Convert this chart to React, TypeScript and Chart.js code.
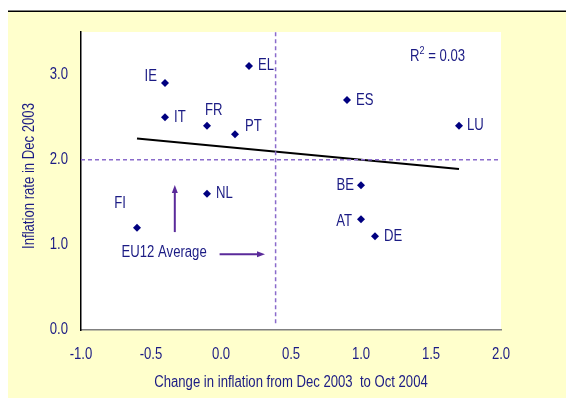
import React, { useEffect, useRef } from "react";
import { Chart, registerables } from "chart.js";

Chart.register(...registerables);

// ---- data ----
const countries = ["EL", "IE", "IT", "FR", "PT", "ES", "LU", "BE", "NL", "FI", "AT", "DE"];
const changeInInflation = [0.2, -0.4, -0.4, -0.1, 0.1, 0.9, 1.7, 1.0, -0.1, -0.6, 1.0, 1.1];
const inflationDec2003 = [3.1, 2.9, 2.5, 2.4, 2.3, 2.7, 2.4, 1.7, 1.6, 1.2, 1.3, 1.1];
const trendX = [-0.6, 1.7];
const trendY = [2.25, 1.89];
const avgChange = 0.39;
const avgInflation = 2.0;
const xTicks = [-1.0, -0.5, 0.0, 0.5, 1.0, 1.5, 2.0];
const yTicks = [0.0, 1.0, 2.0, 3.0];
const rSquared = "0.03";
const xTitle = "Change in inflation from Dec 2003  to Oct 2004";
const yTitle = "Inflation rate in Dec 2003";

// ---- styles / label placement ----
const FONT = '"Liberation Sans", Arial, sans-serif';
const TEXT = "#1B1B84";
const SQ = 0.82; // horizontal condensation of text
const labelPlace: Record<string, { dx: number; dy: number; align: CanvasTextAlign }> = {
  EL: { dx: 9, dy: 0, align: "left" },
  IE: { dx: -8, dy: -6, align: "right" },
  IT: { dx: 9, dy: 0, align: "left" },
  FR: { dx: -2, dy: -15, align: "left" },
  PT: { dx: 10, dy: -8, align: "left" },
  ES: { dx: 9, dy: 0, align: "left" },
  LU: { dx: 8, dy: 0, align: "left" },
  BE: { dx: -7, dy: 0, align: "right" },
  NL: { dx: 9, dy: 0, align: "left" },
  FI: { dx: -11, dy: -24, align: "right" },
  AT: { dx: -9, dy: 2, align: "right" },
  DE: { dx: 9, dy: 0, align: "left" },
};

function narrowText(ctx: CanvasRenderingContext2D, text: string, x: number, y: number, align: CanvasTextAlign, size = 16, rotate = 0) {
  ctx.save();
  ctx.translate(x, y);
  if (rotate) ctx.rotate(rotate);
  ctx.scale(SQ, 1);
  ctx.font = `${size}px ${FONT}`;
  ctx.textAlign = align;
  ctx.textBaseline = "middle";
  ctx.fillText(text, 0, 0);
  const w = ctx.measureText(text).width * SQ;
  ctx.restore();
  return w;
}

const decorPlugin = {
  id: "decor",
  beforeDraw(chart: any) {
    const { ctx, chartArea: a, width, height } = chart;
    ctx.save();
    ctx.fillStyle = "#ffffff";
    ctx.fillRect(0, 0, width, height);
    ctx.fillStyle = "#FFFFCC";
    ctx.fillRect(8, 12, width - 8, height - 12);
    ctx.fillStyle = "#000000";
    ctx.fillRect(8, 10.5, width - 8, 1.5);
    ctx.fillStyle = "#ffffff";
    ctx.fillRect(a.left, a.top, a.right - a.left, a.bottom - a.top);
    ctx.restore();
  },
  afterDraw(chart: any) {
    const { ctx, scales, chartArea: a } = chart;
    const xs = scales.x, ys = scales.y;
    ctx.save();
    ctx.fillStyle = TEXT;
    // tick labels
    xTicks.forEach((v) => narrowText(ctx, v.toFixed(1), xs.getPixelForValue(v), a.bottom + 25, "center"));
    yTicks.forEach((v) => narrowText(ctx, v.toFixed(1), a.left - 13, ys.getPixelForValue(v), "right"));
    // point labels
    countries.forEach((c, i) => {
      const p = labelPlace[c];
      const px = xs.getPixelForValue(changeInInflation[i]);
      const py = ys.getPixelForValue(inflationDec2003[i]);
      narrowText(ctx, c, px + p.dx, py + p.dy, p.align);
    });
    // EU12 Average text
    narrowText(ctx, "EU12 Average", xs.getPixelForValue(-0.71), ys.getPixelForValue(0.91), "left");
    // R^2
    let rx = xs.getPixelForValue(1.35);
    const ry = ys.getPixelForValue(3.21);
    rx += narrowText(ctx, "R", rx, ry, "left");
    rx += narrowText(ctx, "2", rx, ry - 6, "left", 11);
    narrowText(ctx, " = " + rSquared, rx, ry, "left");
    // arrow heads
    ctx.fillStyle = "#5A2A9A";
    const vx = xs.getPixelForValue(-0.33);
    const vy = ys.getPixelForValue(1.68);
    ctx.beginPath();
    ctx.moveTo(vx, vy - 2);
    ctx.lineTo(vx - 3, vy + 6);
    ctx.lineTo(vx + 3, vy + 6);
    ctx.closePath();
    ctx.fill();
    const hx = xs.getPixelForValue(0.3);
    const hy = ys.getPixelForValue(0.89);
    ctx.beginPath();
    ctx.moveTo(hx + 2, hy);
    ctx.lineTo(hx - 6, hy - 3);
    ctx.lineTo(hx - 6, hy + 3);
    ctx.closePath();
    ctx.fill();
    // axis titles
    ctx.fillStyle = TEXT;
    narrowText(ctx, xTitle, 291, 383, "center");
    narrowText(ctx, yTitle, 30, 176, "center", 16, -Math.PI / 2);
    ctx.restore();
  },
};

export default function App() {
  const ref = useRef<HTMLCanvasElement | null>(null);
  useEffect(() => {
    document.body.style.margin = "0";
    const canvas = ref.current!;
    const chart = new Chart(canvas, {
      type: "scatter",
      data: {
        datasets: [
          {
            type: "line",
            data: [
              { x: avgChange, y: 0.08 },
              { x: avgChange, y: 3.5 },
            ],
            borderColor: "#8A6BCB",
            borderWidth: 1.5,
            borderDash: [4, 3],
            pointRadius: 0,
          } as any,
          {
            type: "line",
            data: [
              { x: -1.0, y: avgInflation },
              { x: 2.0, y: avgInflation },
            ],
            borderColor: "#8A6BCB",
            borderWidth: 1.5,
            borderDash: [4, 3],
            pointRadius: 0,
          } as any,
          {
            type: "line",
            data: trendX.map((x, i) => ({ x, y: trendY[i] })),
            borderColor: "#000000",
            borderWidth: 2,
            pointRadius: 0,
          } as any,
          {
            type: "line",
            data: [
              { x: -0.33, y: 1.15 },
              { x: -0.33, y: 1.62 },
            ],
            borderColor: "#5A2A9A",
            borderWidth: 2,
            pointRadius: 0,
          } as any,
          {
            type: "line",
            data: [
              { x: -0.01, y: 0.89 },
              { x: 0.26, y: 0.89 },
            ],
            borderColor: "#5A2A9A",
            borderWidth: 2,
            pointRadius: 0,
          } as any,
          {
            data: changeInInflation.map((x, i) => ({ x, y: inflationDec2003[i] })),
            pointStyle: "rectRot",
            pointRadius: 4,
            backgroundColor: "#000080",
            borderColor: "#000080",
            borderWidth: 0,
          },
        ],
      },
      options: {
        animation: false,
        responsive: false,
        devicePixelRatio: 1,
        layout: { padding: { left: 0, top: 32, right: 65, bottom: 0 } },
        plugins: { legend: { display: false }, tooltip: { enabled: false } },
        scales: {
          x: {
            type: "linear",
            min: -1,
            max: 2,
            afterFit: (s: any) => {
              s.height = 68;
            },
            afterBuildTicks: (s: any) => {
              s.ticks = xTicks.map((v) => ({ value: v }));
            },
            grid: { display: false, drawTicks: false },
            border: { display: true, color: "#808080", width: 1.5 },
            ticks: { display: false },
          },
          y: {
            type: "linear",
            min: 0,
            max: 3.5,
            afterFit: (s: any) => {
              s.width = 81;
            },
            afterBuildTicks: (s: any) => {
              s.ticks = yTicks.map((v) => ({ value: v }));
            },
            grid: { display: false, drawTicks: false },
            border: { display: true, color: "#000000", width: 1.5 },
            ticks: { display: false },
          },
        },
      },
      plugins: [decorPlugin],
    });
    return () => chart.destroy();
  }, []);
  return (
    <div style={{ width: 566, height: 398 }}>
      <canvas ref={ref} width={566} height={398} style={{ display: "block" }} />
    </div>
  );
}
